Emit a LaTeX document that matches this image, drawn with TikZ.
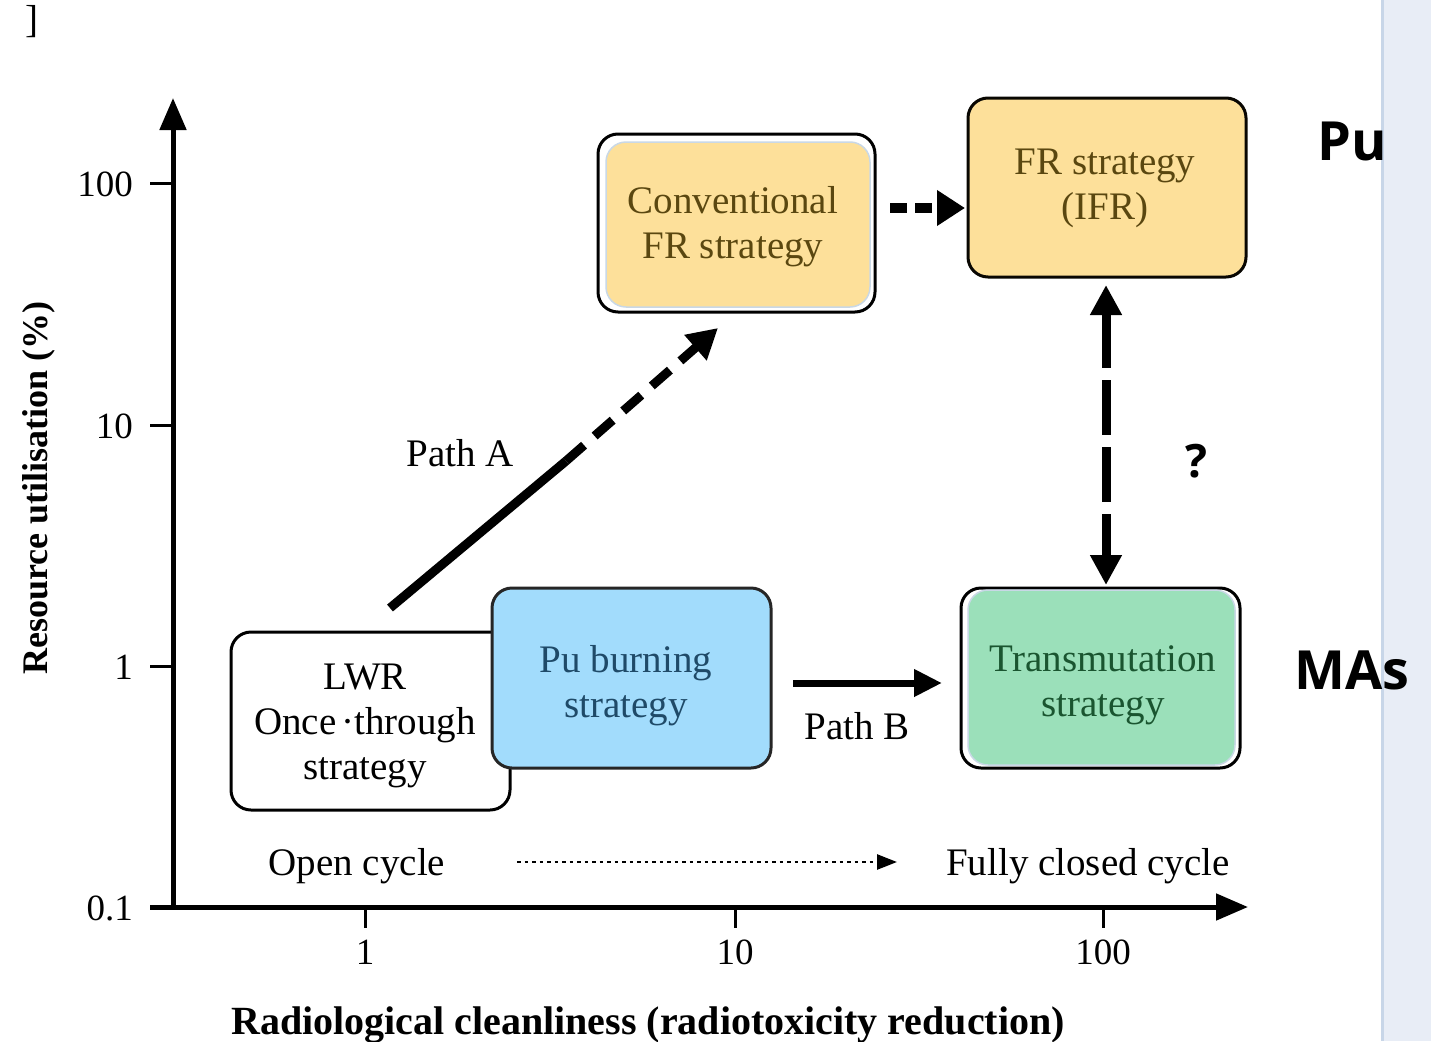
\documentclass[tikz,border=0pt]{standalone}
\usepackage{fontspec}
\setmainfont{Liberation Serif}
\newfontfamily\sansb{Open Sans}
\usetikzlibrary{arrows.meta}
\definecolor{yfill}{HTML}{FDE09A}
\definecolor{ytext}{HTML}{5A4710}
\definecolor{bfill}{HTML}{A2DCFC}
\definecolor{btext}{HTML}{1F4A68}
\definecolor{gfill}{HTML}{9BE0BA}
\definecolor{gtext}{HTML}{1A5530}
\definecolor{edgeblue}{HTML}{C9D8E6}
\definecolor{stripfill}{HTML}{E8EDF6}
\definecolor{stripline}{HTML}{C8D6E8}
\tikzset{
  txt/.style={font=\fontsize{39}{45}\selectfont, inner sep=0pt},
  num/.style={font=\fontsize{37}{40}\selectfont, inner sep=0pt},
  big/.style={font=\sansb\bfseries\fontsize{54}{60}\selectfont, inner sep=0pt},
  outerbox/.style={draw=black, line width=3pt, rounded corners=20pt, fill=white, inner sep=0pt},
  innerbox/.style={rounded corners=20pt, inner sep=0pt, align=center, font=\fontsize{39}{45}\selectfont},
  axis/.style={line width=5pt, -{Triangle[length=32pt,width=26pt]}},
  tick/.style={line width=3pt},
  thickarrow/.style={line width=9pt, -{Triangle[length=30pt,width=32pt]}},
}
\begin{document}
\begin{tikzpicture}[x=1pt,y=-1pt]
\useasboundingbox (0,0) rectangle (1431,1041);
% right strip
\fill[stripfill] (1381,0) rectangle (1431,1041);
\draw[stripline, line width=3pt] (1382.5,0) -- (1382.5,1041);
% stray bracket
\node[txt, anchor=center] (brk) at (32,22) {]};
% axes
\coordinate (origin) at (173,907);
\coordinate (ytip) at (173,98);
\coordinate (xtip) at (1248,907);
\coordinate (ystart) at (173,909.5);
\coordinate (xstart) at (150,907);
\draw[axis] (ystart) -- (ytip);
\draw[axis] (xstart) -- (xtip);
% y ticks
\foreach \yy/\lab in {183/100, 425/10, 666/1, 907/0.1}{
  \draw[tick] (150,\yy) -- (173,\yy);
  \node[num, anchor=east] at (133,\yy+1) {\lab};
}
% x ticks
\foreach \xx/\lab in {365/1, 735/10, 1103/100}{
  \draw[tick] (\xx,907) -- (\xx,928);
  \node[num, anchor=center] at (\xx,952) {\lab};
}
% axis titles
\node[txt, font=\bfseries\fontsize{40}{44}\selectfont, anchor=base] (xtitle) at (648,1034) {Radiological cleanliness (radiotoxicity reduction)};
\node[txt, font=\bfseries\fontsize{36}{40}\selectfont, anchor=base, rotate=90] (ytitle) at (47,488) {Resource utilisation (\%)};

% boxes
\node[outerbox, minimum width=279pt, minimum height=178pt] (lwr) at (370.5,721) {};
\node[txt, align=center] (lwrt) at (365,726) {LWR\\Once\kern5pt·through\\strategy};
\node[innerbox, draw=black!85, line width=3pt, fill=bfill, minimum width=279pt, minimum height=180pt] (pub) at (631.5,678) {};
\node[txt, align=center, text=btext] (pubt) at (626,686) {Pu burning\\strategy};

\node[outerbox, minimum width=277pt, minimum height=178pt] (conv) at (736.5,223) {};
\node[innerbox, draw=edgeblue, line width=1.5pt, fill=yfill, minimum width=264pt, minimum height=165pt] (convin) at (738,224.5) {};
\node[txt, align=center, text=ytext] (convt) at (733,227) {Conventional\\FR strategy};

\node[innerbox, draw=black!90!ytext, line width=3pt, fill=yfill, minimum width=278pt, minimum height=179pt] (ifr) at (1107,187.5) {};
\node[txt, align=center, text=ytext] (ifrt) at (1105,188) {FR strategy\\(IFR)};

\node[outerbox, minimum width=279pt, minimum height=180pt] (trans) at (1100.5,678) {};
\node[innerbox, draw=edgeblue, line width=1.5pt, fill=gfill, minimum width=267pt, minimum height=175pt] (transin) at (1101.5,677.5) {};
\node[txt, align=center, text=gtext] (transt) at (1103,685) {Transmutation\\strategy};

% Path A
\coordinate (pa1) at (390,608);
\coordinate (pa2) at (566,461);
\coordinate (pa3) at (718,328);
\draw[line width=9pt] (pa1) -- (pa2);
\draw[thickarrow, dash pattern=on 24pt off 14pt] (pa2) -- (pa3);
\node[txt, anchor=center] (patha) at (460,453) {Path A};

% conv -> ifr
\coordinate (c1) at (890,208);
\coordinate (c2) at (965,208);
\draw[line width=10pt, dash pattern=on 17pt off 8pt, -{Triangle[length=28pt,width=34pt]}] (c1) -- (c2);

% ifr <-> trans
\coordinate (v1) at (1106,285);
\coordinate (v2) at (1106,585);
\draw[line width=9pt, dash pattern=on 55pt off 12pt, {Triangle[length=30pt,width=30pt]}-{Triangle[length=30pt,width=30pt]}] (v1) -- (v2);
\node[big, font=\sansb\bfseries\fontsize{46}{50}\selectfont] (qm) at (1196,461) {?};

% Path B
\coordinate (b1) at (793,683);
\coordinate (b2) at (942,683);
\draw[line width=7pt, -{Triangle[length=28pt,width=26pt]}] (b1) -- (b2);
\node[txt, anchor=center] (pathb) at (857,726) {Path B};

% open/closed cycle
\node[txt, anchor=center] (open) at (357,866) {Open cycle};
\node[txt, anchor=center] (closed) at (1088,866) {Fully closed cycle};
\coordinate (d1) at (517,862);
\coordinate (d2) at (897,862);
\draw[line width=2.5pt, dash pattern=on 3.5pt off 4pt, -{Triangle[length=20pt,width=15pt]}] (d1) -- (d2);

% Pu / MAs
\node[big] (pu) at (1352,141) {Pu};
\node[big] (mas) at (1352,670) {MAs};
\end{tikzpicture}
\end{document}
